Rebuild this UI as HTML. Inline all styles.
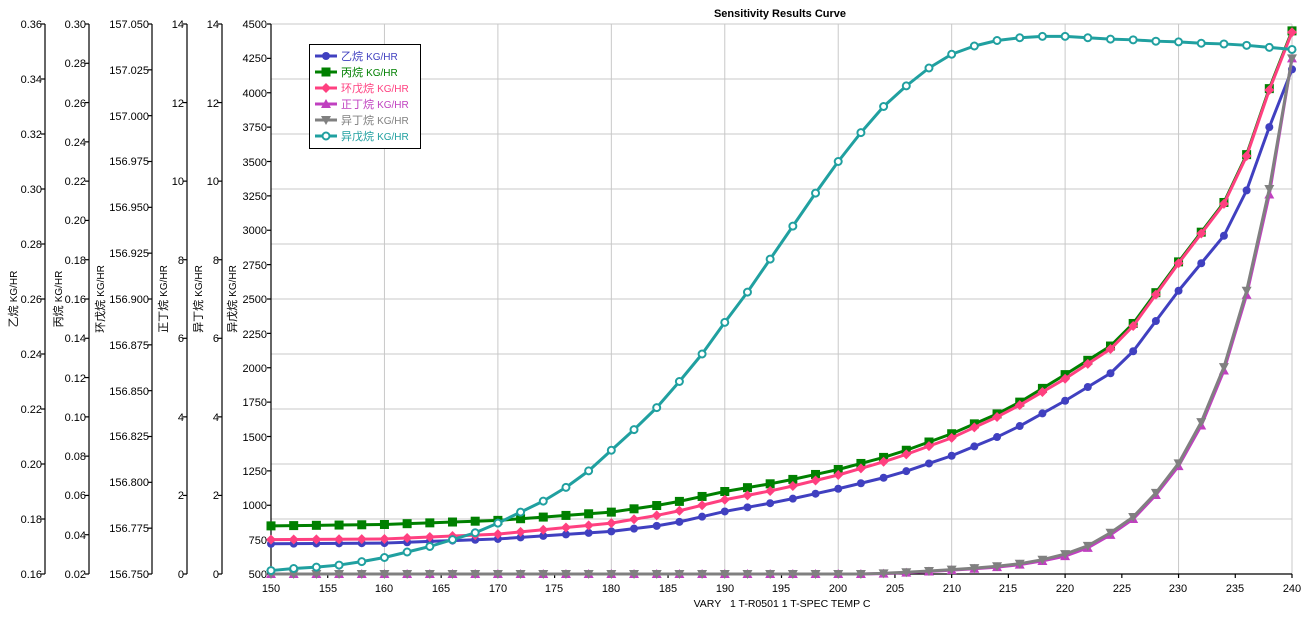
<!DOCTYPE html>
<html><head><meta charset="utf-8"><style>
body{margin:0;background:#fff;}
svg text{font-family:"Liberation Sans","Noto Sans CJK SC",sans-serif;font-size:11px;fill:#000;}
</style></head><body>
<svg id="s" width="1307" height="617" xmlns="http://www.w3.org/2000/svg">
<g id="grid" stroke="#c8c8c8" stroke-width="1"></g>
<g id="axes" stroke="#000" stroke-width="1.2"></g>
<g id="series"></g>
<text x="780" y="17" text-anchor="middle" style="font-weight:bold;font-size:11px">Sensitivity Results Curve</text>
<text x="782" y="607" text-anchor="middle" style="font-size:10.5px">VARY&#160;&#160;&#160;1 T-R0501 1 T-SPEC TEMP C</text>
<g text-anchor="end">
<text x="42" y="28">0.36</text><text x="42" y="83">0.34</text><text x="42" y="138">0.32</text><text x="42" y="193">0.30</text><text x="42" y="248">0.28</text><text x="42" y="303">0.26</text><text x="42" y="358">0.24</text><text x="42" y="413">0.22</text><text x="42" y="468">0.20</text><text x="42" y="523">0.18</text><text x="42" y="578">0.16</text>
<text x="86" y="28">0.30</text><text x="86" y="67">0.28</text><text x="86" y="107">0.26</text><text x="86" y="146">0.24</text><text x="86" y="185">0.22</text><text x="86" y="224">0.20</text><text x="86" y="264">0.18</text><text x="86" y="303">0.16</text><text x="86" y="342">0.14</text><text x="86" y="382">0.12</text><text x="86" y="421">0.10</text><text x="86" y="460">0.08</text><text x="86" y="499">0.06</text><text x="86" y="539">0.04</text><text x="86" y="578">0.02</text>
<text x="149" y="28">157.050</text><text x="149" y="74">157.025</text><text x="149" y="120">157.000</text><text x="149" y="165">156.975</text><text x="149" y="211">156.950</text><text x="149" y="257">156.925</text><text x="149" y="303">156.900</text><text x="149" y="349">156.875</text><text x="149" y="395">156.850</text><text x="149" y="440">156.825</text><text x="149" y="486">156.800</text><text x="149" y="532">156.775</text><text x="149" y="578">156.750</text>
<text x="184" y="28">14</text><text x="184" y="107">12</text><text x="184" y="185">10</text><text x="184" y="264">8</text><text x="184" y="342">6</text><text x="184" y="421">4</text><text x="184" y="499">2</text><text x="184" y="578">0</text>
<text x="219" y="28">14</text><text x="219" y="107">12</text><text x="219" y="185">10</text><text x="219" y="264">8</text><text x="219" y="342">6</text><text x="219" y="421">4</text><text x="219" y="499">2</text><text x="219" y="578">0</text>
<text x="267" y="28">4500</text><text x="267" y="62">4250</text><text x="267" y="97">4000</text><text x="267" y="131">3750</text><text x="267" y="166">3500</text><text x="267" y="200">3250</text><text x="267" y="234">3000</text><text x="267" y="269">2750</text><text x="267" y="303">2500</text><text x="267" y="338">2250</text><text x="267" y="372">2000</text><text x="267" y="406">1750</text><text x="267" y="441">1500</text><text x="267" y="475">1250</text><text x="267" y="509">1000</text><text x="267" y="544">750</text><text x="267" y="578">500</text>
</g>
<g text-anchor="middle">
<text x="271" y="592">150</text><text x="328" y="592">155</text><text x="384" y="592">160</text><text x="441" y="592">165</text><text x="498" y="592">170</text><text x="554" y="592">175</text><text x="611" y="592">180</text><text x="668" y="592">185</text><text x="725" y="592">190</text><text x="781" y="592">195</text><text x="838" y="592">200</text><text x="895" y="592">205</text><text x="952" y="592">210</text><text x="1008" y="592">215</text><text x="1065" y="592">220</text><text x="1122" y="592">225</text><text x="1178" y="592">230</text><text x="1235" y="592">235</text><text x="1292" y="592">240</text>
</g>
<g text-anchor="middle" style="font-size:12px">
<text transform="translate(17,299) rotate(-90)">乙烷 <tspan style="font-size:10px">KG/HR</tspan></text>
<text transform="translate(62,299) rotate(-90)">丙烷 <tspan style="font-size:10px">KG/HR</tspan></text>
<text transform="translate(104,299) rotate(-90)">环戊烷 <tspan style="font-size:10px">KG/HR</tspan></text>
<text transform="translate(167,299) rotate(-90)">正丁烷 <tspan style="font-size:10px">KG/HR</tspan></text>
<text transform="translate(202,299) rotate(-90)">异丁烷 <tspan style="font-size:10px">KG/HR</tspan></text>
<text transform="translate(236,299) rotate(-90)">异戊烷 <tspan style="font-size:10px">KG/HR</tspan></text>
</g>
<rect x="309.5" y="44.5" width="111" height="104" fill="#fff" stroke="#000" stroke-width="1"/>
<g id="leg"></g>
<g style="font-size:12.5px">
<text x="341" y="60" style="fill:#4040c0">乙烷 <tspan style="font-size:10px">KG/HR</tspan></text>
<text x="341" y="76" style="fill:#008000">丙烷 <tspan style="font-size:10px">KG/HR</tspan></text>
<text x="341" y="92" style="fill:#ff4080">环戊烷 <tspan style="font-size:10px">KG/HR</tspan></text>
<text x="341" y="108" style="fill:#c040c0">正丁烷 <tspan style="font-size:10px">KG/HR</tspan></text>
<text x="341" y="124" style="fill:#808080">异丁烷 <tspan style="font-size:10px">KG/HR</tspan></text>
<text x="341" y="140" style="fill:#20a0a0">异戊烷 <tspan style="font-size:10px">KG/HR</tspan></text>
</g>
</svg>
<script>
var NS="http://www.w3.org/2000/svg";
function el(p,t,a){var e=document.createElementNS(NS,t);for(var k in a)e.setAttribute(k,a[k]);document.getElementById(p).appendChild(e);return e;}
function X(v){return 271+(v-150)*1021/90;}
function Y(v){return 574-(v-500)*0.1375;}
for(var i=0;i<10;i++)el('grid','line',{x1:271,x2:1292,y1:24+55*i,y2:24+55*i});
for(var v=160;v<=240;v+=10)el('grid','line',{x1:X(v),x2:X(v),y1:24,y2:574});
function ax(x,n){el('axes','line',{x1:x,x2:x,y1:24,y2:574});for(var i=0;i<=n;i++){var y=24+550*i/n;el('axes','line',{x1:x-4,x2:x,y1:y,y2:y});}}
ax(45,10);ax(89,14);ax(152,12);ax(187,7);ax(222,7);ax(271,16);
el('axes','line',{x1:271,x2:1292,y1:574,y2:574});
for(var v=150;v<=240;v+=5)el('axes','line',{x1:X(v),x2:X(v),y1:574,y2:578});
function interp(a,x){for(var i=0;i<a.length-1;i++){if(x>=a[i][0]&&x<=a[i+1][0]){var t=(x-a[i][0])/(a[i+1][0]-a[i][0]);return a[i][1]+t*(a[i+1][1]-a[i][1]);}}return a[a.length-1][1];}
var S=[
{c:'#4040c0',m:'circle',d:[[150,720],[160,725],[170,755],[180,810],[185,860],[190,955],[195,1030],[200,1120],[205,1220],[210,1360],[215,1530],[220,1760],[225,2010],[230,2560],[235,3060],[238,3750],[240,4170]]},
{c:'#008000',m:'square',d:[[150,850],[160,860],[170,890],[180,950],[185,1010],[190,1100],[195,1170],[200,1260],[205,1370],[210,1520],[215,1700],[220,1950],[225,2210],[230,2770],[235,3310],[238,4030],[240,4450]]},
{c:'#ff4080',m:'diamond',d:[[150,750],[160,755],[170,790],[180,870],[185,940],[190,1040],[195,1120],[200,1220],[205,1340],[210,1490],[215,1680],[220,1920],[225,2190],[230,2760],[235,3300],[238,4020],[240,4440]]},
{c:'#c040c0',m:'tri',d:[[150,500],[202,500],[204,503],[206,510],[208,518],[210,528],[212,538],[214,550],[216,568],[218,595],[220,630],[222,690],[224,785],[226,900],[228,1075],[230,1285],[232,1580],[234,1980],[236,2530],[238,3260],[240,4250]]},
{c:'#808080',m:'dtri',d:[[150,500],[202,500],[204,505],[206,513],[208,522],[210,532],[212,543],[214,556],[216,575],[218,604],[220,645],[222,705],[224,800],[226,915],[228,1090],[230,1305],[232,1605],[234,2005],[236,2560],[238,3300],[240,4250]]},
{c:'#20a0a0',m:'open',d:[[150,525],[152,540],[154,550],[156,565],[158,590],[160,620],[162,660],[164,700],[166,750],[168,800],[170,870],[172,950],[174,1030],[176,1130],[178,1250],[180,1400],[182,1550],[184,1710],[186,1900],[188,2100],[190,2330],[192,2550],[194,2790],[196,3030],[198,3270],[200,3500],[202,3710],[204,3900],[206,4050],[208,4180],[210,4280],[212,4340],[214,4380],[216,4400],[218,4410],[220,4410],[222,4400],[224,4390],[226,4385],[228,4375],[230,4370],[232,4360],[234,4355],[236,4345],[238,4330],[240,4315]]}
];
function marker(g,m,x,y,c){
 if(m=='circle')el(g,'circle',{cx:x,cy:y,r:4,fill:c});
 else if(m=='open')el(g,'circle',{cx:x,cy:y,r:3.5,fill:'#fff',stroke:c,'stroke-width':2});
 else if(m=='square')el(g,'rect',{x:x-4.5,y:y-4.5,width:9,height:9,fill:c});
 else if(m=='diamond')el(g,'polygon',{points:(x)+','+(y-5)+' '+(x+5)+','+y+' '+x+','+(y+5)+' '+(x-5)+','+y,fill:c});
 else if(m=='tri')el(g,'polygon',{points:x+','+(y-5)+' '+(x+5)+','+(y+4)+' '+(x-5)+','+(y+4),fill:c});
 else el(g,'polygon',{points:x+','+(y+5)+' '+(x+5)+','+(y-4)+' '+(x-5)+','+(y-4),fill:c});
}
S.forEach(function(s){
 var pts=[];for(var v=150;v<=240;v+=2)pts.push([X(v),Y(interp(s.d,v))]);
 el('series','polyline',{points:pts.map(function(p){return p.join(',')}).join(' '),fill:'none',stroke:s.c,'stroke-width':3,'stroke-linejoin':'round'});
 pts.forEach(function(p){marker('series',s.m,p[0],p[1],s.c);});
});
S.forEach(function(s,i){var y=56+16*i;el('leg','line',{x1:315,x2:337,y1:y,y2:y,stroke:s.c,'stroke-width':3});marker('leg',s.m,326,y,s.c);});
</script>
</body></html>
